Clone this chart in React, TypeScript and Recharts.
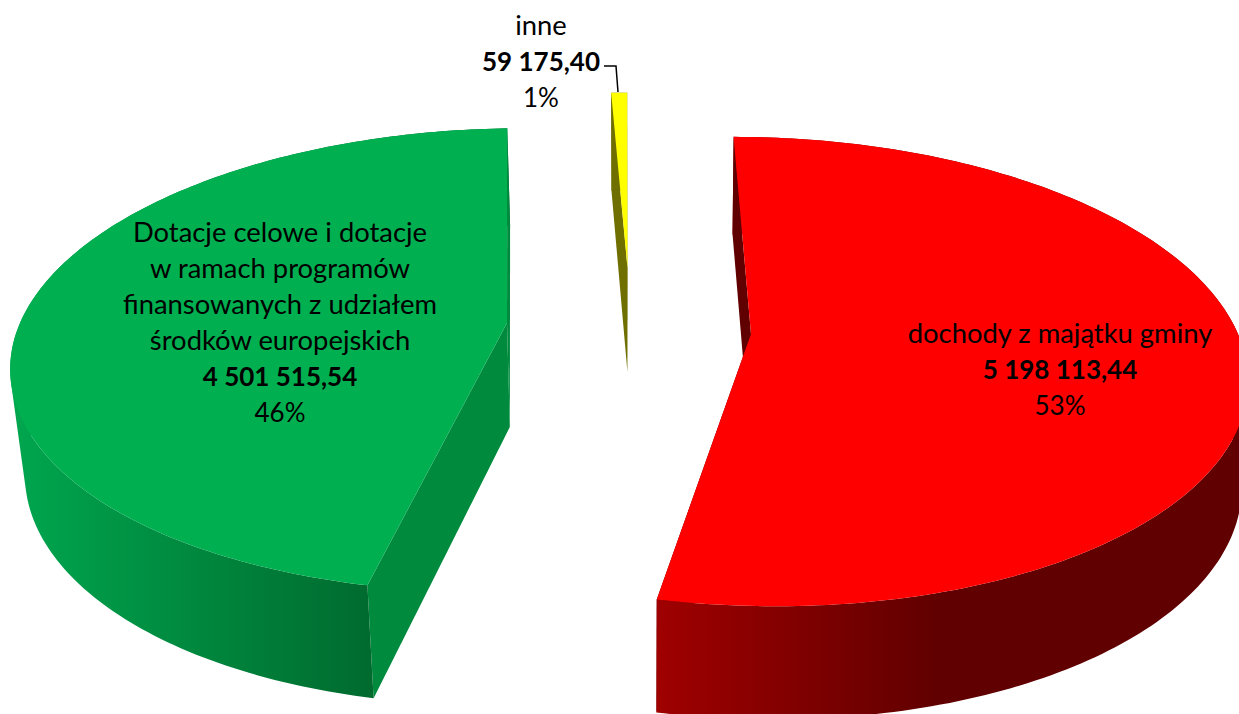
import React from "react";
import { Pie, PieChart } from "recharts";

const categories = ["dochody z majątku gminy", "Dotacje celowe i dotacje w ramach programów finansowanych z udziałem środków europejskich", "inne"];
const values = [5198113.44, 4501515.54, 59175.4];
const valueLabels = ["5 198 113,44", "4 501 515,54", "59 175,40"];
const percentLabels = ["53%", "46%", "1%"];
const nameLines = [
  ["dochody z majątku gminy"],
  ["Dotacje celowe i dotacje", "w ramach programów", "finansowanych z udziałem", "środków europejskich"],
  ["inne"],
];

const data = categories.map((name, i) => ({ name, value: values[i] }));

// look of each slice
const topColors = ["#ff0000", "#00b050", "#ffff00"];
const faceColors = ["#600000", "#008a3e", "#6f6f00"];
const wallStops = [
  { x1: 655, x2: 940, from: "#a00000", to: "#600000" },
  { x1: 20, x2: 375, from: "#00a54e", to: "#006a2e" },
  { x1: 600, x2: 640, from: "#6f6f00", to: "#6f6f00" },
];
const explodeX = [126, -118, 2.5];
const apexY = [334, 323, 268];
const flatten = [1.012, 1, 0.9];
const shrink = [0.99, 0.976, 0.976];
const labelX = [1060, 280, 541];
const labelY = [343, 242, 35];

const CX = 625;
const RADIUS = 487;
const TILT = 0.464;
const PERSPECTIVE = 0.16;
const DEPTH = 104;

type Pt = { x: number; y: number };

function project(deg: number, r: number, i: number, cx: number, radius: number): Pt {
  const t = (deg * Math.PI) / 180;
  const u = Math.sin(t) * r;
  const v = -Math.cos(t) * r;
  const w = 1 - PERSPECTIVE * v;
  return {
    x: cx + (explodeX[i] + radius * u) / w,
    y: apexY[i] + (radius * TILT * flatten[i] * v) / w,
  };
}

function drop(p: Pt, i: number, cx: number): Pt {
  return {
    x: cx + (p.x - cx) * shrink[i],
    y: apexY[i] + DEPTH + (p.y - apexY[i]) * 1.034,
  };
}

function toPath(points: Pt[]) {
  return points.map((p, n) => `${n ? "L" : "M"}${p.x.toFixed(2)},${p.y.toFixed(2)}`).join(" ") + " Z";
}

// the outer wall as a sweep of quads, all wound the same way so they never cancel
function wallPath(arc: Pt[], i: number, cx: number) {
  const parts: string[] = [];
  for (let n = 0; n < arc.length - 1; n++) {
    const quad = [arc[n], arc[n + 1], drop(arc[n + 1], i, cx), drop(arc[n], i, cx)];
    let area = 0;
    quad.forEach((p, k) => {
      const q = quad[(k + 1) % 4];
      area += p.x * q.y - q.x * p.y;
    });
    parts.push(toPath(area < 0 ? quad.reverse() : quad));
  }
  return parts.join(" ");
}

function Slice3D(props: any) {
  const { cx, outerRadius, startAngle, endAngle, index } = props;
  const i = index ?? 0;
  const from = 90 - startAngle;
  const to = 90 - endAngle;
  const arc: Pt[] = [];
  const steps = Math.max(2, Math.ceil(to - from));
  for (let s = 0; s <= steps; s++) {
    arc.push(project(from + ((to - from) * s) / steps, 1, i, cx, outerRadius));
  }
  const apex = project(0, 0, i, cx, outerRadius);
  const first = arc[0];
  const last = arc[arc.length - 1];
  const gradId = `wall-${i}`;
  const wall = wallStops[i];
  const face = (edge: Pt) => (
    <path d={toPath([apex, edge, drop(edge, i, cx), drop(apex, i, cx)])} fill={faceColors[i]} />
  );
  const isFar = (deg: number) => Math.cos((deg * Math.PI) / 180) > 0;
  return (
    <g>
      <defs>
        <linearGradient id={gradId} gradientUnits="userSpaceOnUse" x1={wall.x1} x2={wall.x2} y1={0} y2={0}>
          <stop offset="0" stopColor={wall.from} />
          <stop offset="1" stopColor={wall.to} />
        </linearGradient>
      </defs>
      {!isFar(from) && face(first)}
      {!isFar(to) && face(last)}
      <path d={wallPath(arc, i, cx)} fill={`url(#${gradId})`} />
      {isFar(from) && face(first)}
      {isFar(to) && face(last)}
      <path d={toPath([apex, ...arc])} fill={topColors[i]} />
    </g>
  );
}

const textStyle = { fontFamily: "Lato, 'Open Sans', sans-serif", fontSize: 26, fill: "#000" };
const NAME_SIZE = 27.4;
const LINE = 36;

function renderLabel(props: any) {
  const i = props.index;
  const lines = nameLines[i];
  return (
    <g key={i}>
      <text textAnchor="middle" style={textStyle}>
        {lines.map((line, n) => (
          <tspan key={n} x={labelX[i]} y={labelY[i] + n * LINE} fontSize={NAME_SIZE} style={{ fontSize: NAME_SIZE }}>
            {line}
          </tspan>
        ))}
        <tspan x={labelX[i]} y={labelY[i] + lines.length * LINE} fontWeight="bold">
          {valueLabels[i]}
        </tspan>
        <tspan x={labelX[i]} y={labelY[i] + (lines.length + 1) * LINE}>
          {percentLabels[i]}
        </tspan>
      </text>
      {i === 2 && <path d="M604,66 L616,66 L618,92" fill="none" stroke="#000" strokeWidth={1.5} />}
    </g>
  );
}

export default function App() {
  return (
    <div style={{ position: "absolute", left: 0, top: 0, width: 1239, height: 714, background: "#fff" }}>
      <PieChart width={1239} height={714} margin={{ top: 0, right: 0, bottom: 0, left: 0 }}>
        <Pie
          data={data}
          dataKey="value"
          nameKey="name"
          cx={CX}
          cy={357}
          innerRadius={0}
          outerRadius={RADIUS}
          startAngle={90}
          endAngle={-270}
          stroke="none"
          shape={Slice3D}
          label={renderLabel}
          labelLine={false}
          isAnimationActive={false}
        />
      </PieChart>
    </div>
  );
}
